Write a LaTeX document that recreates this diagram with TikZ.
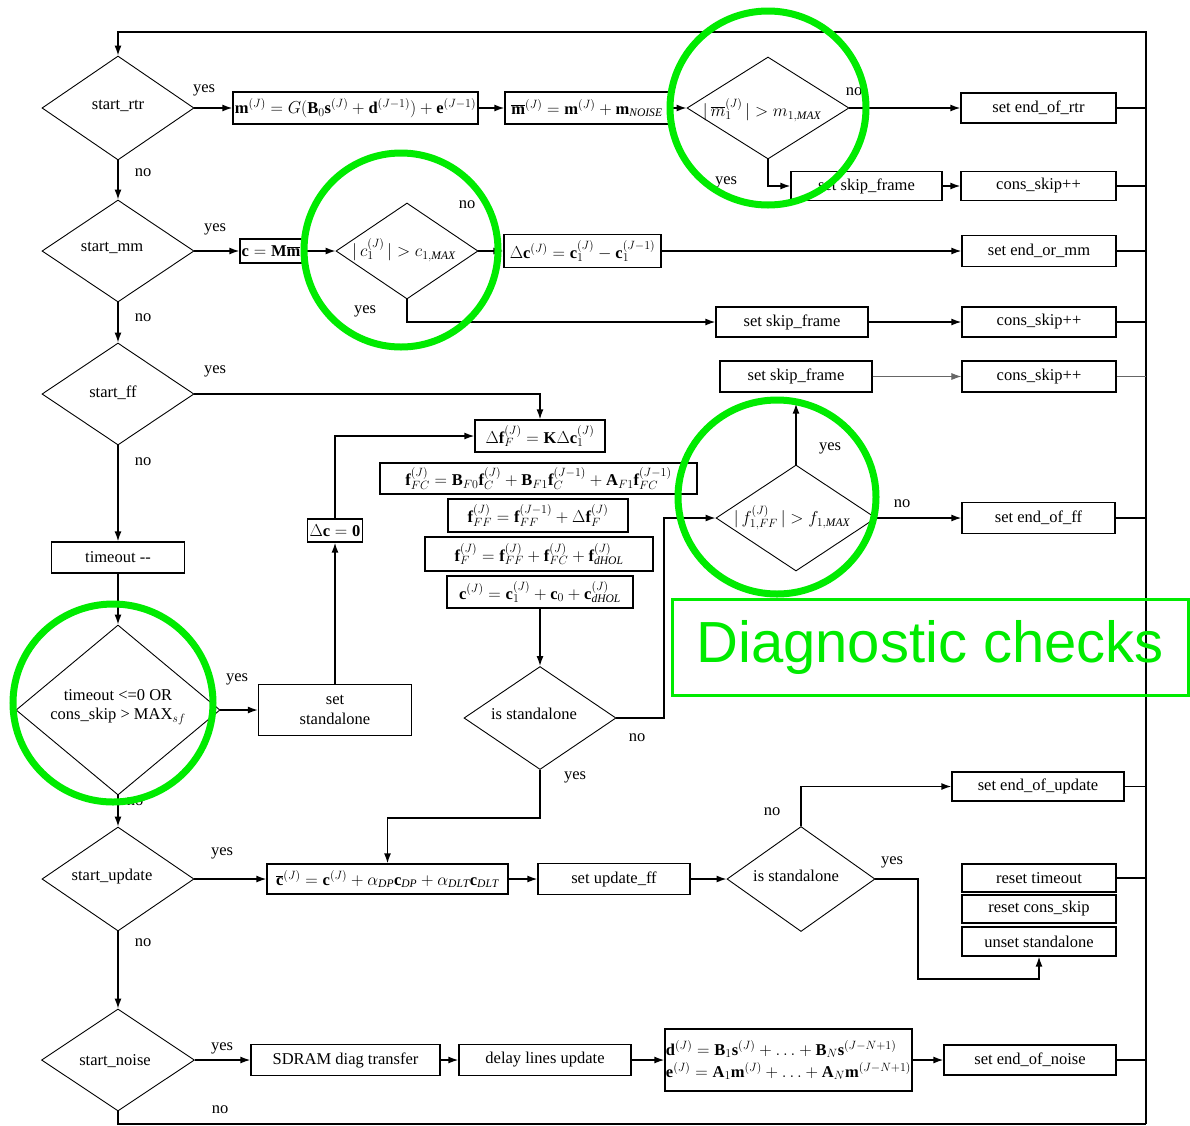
\documentclass[tikz,border=0pt]{standalone}
\usepackage{fontspec}
\setmainfont{Liberation Serif}
\newfontfamily\calloutfont{Liberation Sans}
\usetikzlibrary{arrows.meta,shapes.geometric,calc}

\definecolor{hilite}{RGB}{0,235,0}

\tikzset{
  every node/.style={font=\fontsize{16.5}{19.5}\selectfont},
  box/.style={draw, line width=1.3pt, inner sep=1pt},
  mbox/.style={box, font=\fontsize{16.5}{20}\selectfont},
  dia/.style={draw, diamond, line width=0.9pt, inner sep=0pt},
  dtext/.style={align=center, inner sep=0pt},
  lbl/.style={inner sep=0pt},
  arr/.style={-{Latex[length=10pt,width=7pt]}, line width=1.4pt},
  ln/.style={line width=1.4pt},
  ring/.style={draw=hilite, line width=7pt},
}

\begin{document}
\begin{tikzpicture}[x=1pt,y=-1pt]
\useasboundingbox (0,0) rectangle (1190,1125);
\fill[white] (0,0) rectangle (1190,1125);

% corners of the return path on the right
\coordinate (tr) at (1146,32);
\coordinate (br) at (1146,1124);

% ---------- decisions of the main column ----------
\node[dia, minimum width=152, minimum height=104] (drtr) at (118,108) {};
\node[dia, minimum width=152, minimum height=102] (dmm)  at (118,251) {};
\node[dia, minimum width=152, minimum height=102] (dff)  at (118,394) {};
\node[dia, minimum width=204, minimum height=170] (dto)  at (118,710) {};
\node[dia, minimum width=152, minimum height=104] (dup)  at (118,879) {};
\node[dia, minimum width=153, minimum height=102] (dno)  at (118,1060) {};

\node[dtext] (tdrtr) at (118,106) {start\_rtr};
\node[dtext] (tdmm)  at (112,248) {start\_mm};
\node[dtext] (tdff)  at (113,393) {start\_ff};
\node[dtext] (tdto)  at (118,707) {timeout <=0 OR\\cons\_skip > MAX$_{sf}$};
\node[dtext] (tdup)  at (112,877) {start\_update};
\node[dtext] (tdno)  at (115,1061) {start\_noise};

% ---------- limit checks ----------
\node[dia, minimum width=162, minimum height=102] (dm)   at (768,108) {};
\node[dia, minimum width=142, minimum height=96]  (dc)   at (407,251) {};
\node[dia, minimum width=160, minimum height=106] (dfff) at (796,518) {};
\node[dia, minimum width=152, minimum height=103] (dsa)  at (540,718) {};
\node[dia, minimum width=148, minimum height=105] (dsa2) at (801,879) {};

\node[dtext] (tdm)   at (762,110) {$|\,\overline{m}_1^{(J)}\,|>m_{1,\mathit{MAX}}$};
\node[dtext] (tdc)   at (404,250) {$|\,c_1^{(J)}\,|>c_{1,\mathit{MAX}}$};
\node[dtext] (tdfff) at (792,518) {$|\,f_{1,FF}^{(J)}\,|>f_{1,\mathit{MAX}}$};
\node[dtext] (tdsa)  at (534,714) {is standalone};
\node[dtext] (tdsa2) at (796,876) {is standalone};

% ---------- row: start_rtr ----------
\node[mbox, minimum width=245, minimum height=32] (bm) at (355.5,108)
  {$\mathbf{m}^{(J)}=G(\mathbf{B}_0\mathbf{s}^{(J)}+\mathbf{d}^{(J-1)})+\mathbf{e}^{(J-1)}$};
\node[mbox, minimum width=164, minimum height=32] (bmbar) at (587,108)
  {$\overline{\mathbf{m}}^{(J)}=\mathbf{m}^{(J)}+\mathbf{m}_{\mathit{NOISE}}$};
\node[box, minimum width=155, minimum height=30] (bendrtr) at (1038.5,108) {set end\_of\_rtr};
\node[box, minimum width=151, minimum height=29] (bskip1) at (866.5,186) {set skip\_frame};
\node[box, minimum width=155, minimum height=29] (bcons1) at (1038.5,186) {cons\_skip++};

% ---------- row: start_mm ----------
\node[mbox, minimum width=62, minimum height=24] (bcMm) at (271,251)
  {$\mathbf{c}=\mathbf{M}\overline{\mathbf{m}}$};
\node[mbox, minimum width=157, minimum height=33] (bdc) at (582.5,251)
  {$\Delta\mathbf{c}^{(J)}=\mathbf{c}_1^{(J)}-\mathbf{c}_1^{(J-1)}$};
\node[box, minimum width=154, minimum height=31] (bendmm) at (1039,251) {set end\_or\_mm};
\node[box, minimum width=152, minimum height=30] (bskip2) at (792,322) {set skip\_frame};
\node[box, minimum width=154, minimum height=30] (bcons2) at (1039,322) {cons\_skip++};

% ---------- row: start_ff ----------
\node[box, minimum width=152, minimum height=31] (bskip3) at (796,376.5) {set skip\_frame};
\node[box, minimum width=154, minimum height=31] (bcons3) at (1039,376.5) {cons\_skip++};
\node[mbox, minimum width=130, minimum height=32] (bdf) at (540,436)
  {$\Delta\mathbf{f}_F^{(J)}=\mathbf{K}\Delta\mathbf{c}_1^{(J)}$};
\node[mbox, minimum width=317, minimum height=31] (bffc) at (538.5,478.5)
  {$\mathbf{f}_{FC}^{(J)}=\mathbf{B}_{F0}\mathbf{f}_C^{(J)}+\mathbf{B}_{F1}\mathbf{f}_C^{(J-1)}+\mathbf{A}_{F1}\mathbf{f}_{FC}^{(J-1)}$};
\node[mbox, minimum width=180, minimum height=33] (bfff) at (538,515.5)
  {$\mathbf{f}_{FF}^{(J)}=\mathbf{f}_{FF}^{(J-1)}+\Delta\mathbf{f}_F^{(J)}$};
\node[mbox, minimum width=228, minimum height=34] (bff) at (539,554)
  {$\mathbf{f}_F^{(J)}=\mathbf{f}_{FF}^{(J)}+\mathbf{f}_{FC}^{(J)}+\mathbf{f}_{\mathit{dHOL}}^{(J)}$};
\node[mbox, minimum width=186, minimum height=32] (bcc) at (540,592)
  {$\mathbf{c}^{(J)}=\mathbf{c}_1^{(J)}+\mathbf{c}_0+\mathbf{c}_{\mathit{dHOL}}^{(J)}$};
\node[box, minimum width=153, minimum height=31] (bendff) at (1038.5,518) {set end\_of\_ff};

% ---------- timeout branch ----------
\node[box, minimum width=133, minimum height=31] (bto) at (118,557.5) {timeout -{}-};
\node[box, minimum width=153, minimum height=51, align=center] (bsetsa) at (335,710) {set\\standalone};
\node[mbox, minimum width=55, minimum height=23] (bdc0) at (335,530.5) {$\Delta\mathbf{c}=\mathbf{0}$};

% ---------- row: start_update ----------
\node[mbox, minimum width=241, minimum height=30] (bcbar) at (387.5,879)
  {$\overline{\mathbf{c}}^{(J)}=\mathbf{c}^{(J)}+\alpha_{\mathit{DP}}\mathbf{c}_{\mathit{DP}}+\alpha_{\mathit{DLT}}\mathbf{c}_{\mathit{DLT}}$};
\node[box, minimum width=152, minimum height=31] (bupff) at (614,879) {set update\_ff};
\node[box, minimum width=172, minimum height=29] (bendup) at (1038,786.5) {set end\_of\_update};
\node[box, minimum width=154, minimum height=28] (brt) at (1039,878) {reset timeout};
\node[box, minimum width=154, minimum height=28] (brc) at (1039,909) {reset cons\_skip};
\node[box, minimum width=154, minimum height=29] (bus) at (1039,941.5) {unset standalone};

% ---------- row: start_noise ----------
\node[box, minimum width=189, minimum height=31] (bsdram) at (345.5,1060) {SDRAM diag transfer};
\node[box, minimum width=172, minimum height=31] (bdelay) at (545,1060) {delay lines update};
\node[mbox, minimum width=247, minimum height=62, align=left] (bde) at (788.5,1060)
  {$\mathbf{d}^{(J)}=\mathbf{B}_1\mathbf{s}^{(J)}+\ldots+\mathbf{B}_N\mathbf{s}^{(J-N+1)}$\\[2pt]
   $\mathbf{e}^{(J)}=\mathbf{A}_1\mathbf{m}^{(J)}+\ldots+\mathbf{A}_N\mathbf{m}^{(J-N+1)}$};
\node[box, minimum width=172, minimum height=30] (bendnoise) at (1030,1060) {set end\_of\_noise};

% ---------- connectors ----------
% return path
\draw[arr] (br) -- (tr) -| (drtr.north);
\draw[ln] (dno.south) |- (br);

% main column
\draw[arr] (drtr.south) -- (dmm.north);
\draw[arr] (dmm.south) -- (dff.north);
\draw[arr] (dff.south) -- (bto.north);
\draw[arr] (bto.south) -- (dto.north);
\draw[arr] (dto.south) -- (dup.north);
\draw[arr] (dup.south) -- (dno.north);

% start_rtr row
\draw[arr] (drtr.east) -- (bm.west);
\draw[arr] (bm.east) -- (bmbar.west);
\draw[arr] (bmbar.east) -- (dm.west);
\draw[arr] (dm.east) -- (bendrtr.west);
\draw[arr] (dm.south) |- (bskip1.west);
\draw[arr] (bskip1.east) -- (bcons1.west);
\draw[ln] (bendrtr.east) -- (bendrtr.east -| tr);
\draw[ln] (bcons1.east) -- (bcons1.east -| tr);

% start_mm row
\draw[arr] (dmm.east) -- (bcMm.west);
\draw[arr] (bcMm.east) -- (dc.west);
\draw[arr] (dc.east) -- (bdc.west);
\draw[arr] (bdc.east) -- (bendmm.west);
\draw[arr] (dc.south) |- (bskip2.west);
\draw[arr] (bskip2.east) -- (bcons2.west);
\draw[ln] (bendmm.east) -- (bendmm.east -| tr);
\draw[ln] (bcons2.east) -- (bcons2.east -| tr);

% start_ff row
\draw[arr] (dff.east) -| (bdf.north);
\draw[arr] (bcc.south) -- (dsa.north);
\draw[arr] (dsa.east) -- (664,718) |- (dfff.west);
\draw[arr, shorten >=11pt] (dfff.north) -- (bskip3.south);
\draw[arr] (dfff.east) -- (bendff.west);
\draw[arr, line width=0.8pt, draw=black!60] (bskip3.east) -- (bcons3.west);
\draw[line width=0.8pt, black!60] (bcons3.east) -- (bcons3.east -| tr);
\draw[ln] (bendff.east) -- (bendff.east -| tr);

% standalone branch
\draw[arr] (dto.east) -- (bsetsa.west);
\draw[arr] (bsetsa.north) -- (bdc0.south);
\draw[arr] (bdc0.north) |- (bdf.west);
\draw[arr] (dsa.south) -- (540,818) -| (bcbar.north);

% start_update row
\draw[arr] (dup.east) -- (bcbar.west);
\draw[arr] (bcbar.east) -- (bupff.west);
\draw[arr] (bupff.east) -- (dsa2.west);
\draw[arr] (dsa2.north) |- (bendup.west);
\draw[arr] (dsa2.east) -| (918,979) -| (bus.south);
\draw[ln] (bendup.east) -- (bendup.east -| tr);
\draw[ln] (brt.east) -- (brt.east -| tr);

% start_noise row
\draw[arr] (dno.east) -- (bsdram.west);
\draw[arr] (bsdram.east) -- (bdelay.west);
\draw[arr] (bdelay.east) -- (bde.west);
\draw[arr] (bde.east) -- (bendnoise.west);
\draw[ln] (bendnoise.east) -- (bendnoise.east -| tr);

% ---------- branch labels ----------
\node[lbl] (y1)  at (204,90)   {yes};
\node[lbl] (n1)  at (143,173)  {no};
\node[lbl] (n2)  at (854,92)   {no};
\node[lbl] (y2)  at (726,182)  {yes};
\node[lbl] (y3)  at (215,229)  {yes};
\node[lbl] (n3)  at (467,205)  {no};
\node[lbl] (y4)  at (365,311)  {yes};
\node[lbl] (n4)  at (143,318)  {no};
\node[lbl] (y5)  at (215,371)  {yes};
\node[lbl] (n5)  at (143,462)  {no};
\node[lbl] (y6)  at (830,448)  {yes};
\node[lbl] (n6)  at (902,504)  {no};
\node[lbl] (y7)  at (237,679)  {yes};
\node[lbl] (n7)  at (637,738)  {no};
\node[lbl] (y8)  at (575,777)  {yes};
\node[lbl] (n8)  at (135,802)  {no};
\node[lbl] (y9)  at (222,853)  {yes};
\node[lbl] (n9)  at (772,812)  {no};
\node[lbl] (y10) at (892,862)  {yes};
\node[lbl] (n10) at (143,943)  {no};
\node[lbl] (y11) at (222,1048) {yes};
\node[lbl] (n11) at (220,1110) {no};

% ---------- highlighted diagnostic checks ----------
\draw[ring] (768,108) ellipse [x radius=98, y radius=97];
\draw[ring] (401,250) ellipse [x radius=97, y radius=97];
\draw[ring] (777,497) ellipse [x radius=99, y radius=97];
\draw[ring] (113,703) ellipse [x radius=100, y radius=99];
\node[draw=hilite, line width=3pt, minimum width=516, minimum height=96, inner sep=0pt,
      text=hilite, font=\calloutfont\fontsize{58}{62}\selectfont] (diag) at (930,647.5) {Diagnostic checks};
\end{tikzpicture}
\end{document}
